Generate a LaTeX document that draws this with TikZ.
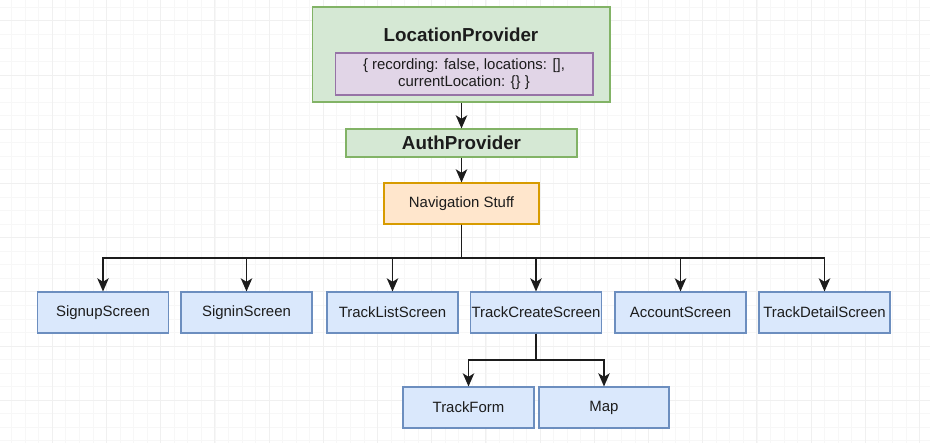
\documentclass[tikz,border=0pt]{standalone}
\usepackage{fontspec}
\setmainfont{Liberation Sans}
\usetikzlibrary{arrows.meta}
\definecolor{greenfill}{HTML}{D5E8D4}
\definecolor{greenline}{HTML}{82B366}
\definecolor{purplefill}{HTML}{E1D5E7}
\definecolor{purpleline}{HTML}{9673A6}
\definecolor{orangefill}{HTML}{FFE6CC}
\definecolor{orangeline}{HTML}{D79B00}
\definecolor{bluefill}{HTML}{DAE8FC}
\definecolor{blueline}{HTML}{6C8EBF}
\definecolor{inkgray}{HTML}{1C1C1C}
\begin{document}
\begin{tikzpicture}[x=0.02cm, y=-0.02cm,
    box/.style={draw, line width=0.6pt, inner sep=0pt, text=inkgray,
        font=\fontsize{8.5}{9.6}\selectfont},
    greenbox/.style={box, fill=greenfill, draw=greenline},
    screenbox/.style={box, fill=bluefill, draw=blueline,
        minimum width=2.62cm, minimum height=0.82cm},
    conn/.style={draw=inkgray, line width=0.9pt,
        -{Stealth[length=7.5pt, width=6.5pt, inset=2pt]}},
    gridminor/.style={draw=black!3, line width=0.3pt},
    gridmajor/.style={draw=black!6, line width=0.4pt}]
    \useasboundingbox (0,0) rectangle (930,443);
    \fill[white] (0,0) rectangle (930,443);
    % background grid
    \begin{scope}
        \clip (0,0) rectangle (930,443);
        \foreach \gx in {0,...,69} \draw[gridminor] ({-2+\gx*13.55},0) -- ++(0,443);
        \foreach \gy in {0,...,34} \draw[gridminor] (0,{-6.4+\gy*13.55}) -- ++(930,0);
        \foreach \gx in {0,...,17} \draw[gridmajor] ({-2+\gx*54.2},0) -- ++(0,443);
        \foreach \gy in {0,...,8} \draw[gridmajor] (0,{-33.5+\gy*54.2}) -- ++(930,0);
    \end{scope}
    % providers
    \node[greenbox, minimum width=5.96cm, minimum height=1.9cm] (loc) at (461,54.5) {};
    \node[text=inkgray, font=\fontsize{10.7}{12}\selectfont\bfseries] (loctitle) at (461,35) {LocationProvider};
    \node[box, fill=purplefill, draw=purpleline, minimum width=5.16cm, minimum height=0.84cm,
        align=center] (state) at (464,74) {\{ recording: false, locations: [],\\currentLocation: \{\} \}};
    \node[greenbox, minimum width=4.62cm, minimum height=0.56cm,
        font=\fontsize{10.7}{12}\selectfont\bfseries] (auth) at (461.5,143) {AuthProvider};
    \node[box, fill=orangefill, draw=orangeline, minimum width=3.1cm, minimum height=0.82cm] (nav) at (461.5,203.5) {Navigation Stuff};
    % screens
    \node[screenbox] (signup) at (103,312.5) {SignupScreen};
    \node[screenbox] (signin) at (246.5,312.5) {SigninScreen};
    \node[screenbox] (tracklist) at (392.5,312.5) {TrackListScreen};
    \node[screenbox] (trackcreate) at (536,312.5) {TrackCreateScreen};
    \node[screenbox] (account) at (680.5,312.5) {AccountScreen};
    \node[screenbox] (trackdetail) at (824.5,312.5) {TrackDetailScreen};
    \node[screenbox] (trackform) at (468.5,407.5) {TrackForm};
    \node[screenbox, minimum width=2.6cm] (map) at (604,407.5) {Map};
    % connectors
    \draw[conn] (loc.south -| auth.north) -- (auth.north);
    \draw[conn] (auth.south -| nav.north) -- (nav.north);
    \coordinate (bus) at (461.5,258);
    \foreach \s in {signup,signin,tracklist,trackcreate,account,trackdetail}
        \draw[conn] (nav.south) -- (bus) -| (\s.north);
    \coordinate (subbus) at (536,360);
    \foreach \s in {trackform,map}
        \draw[conn] (trackcreate.south) -- (subbus) -| (\s.north);
\end{tikzpicture}
\end{document}
